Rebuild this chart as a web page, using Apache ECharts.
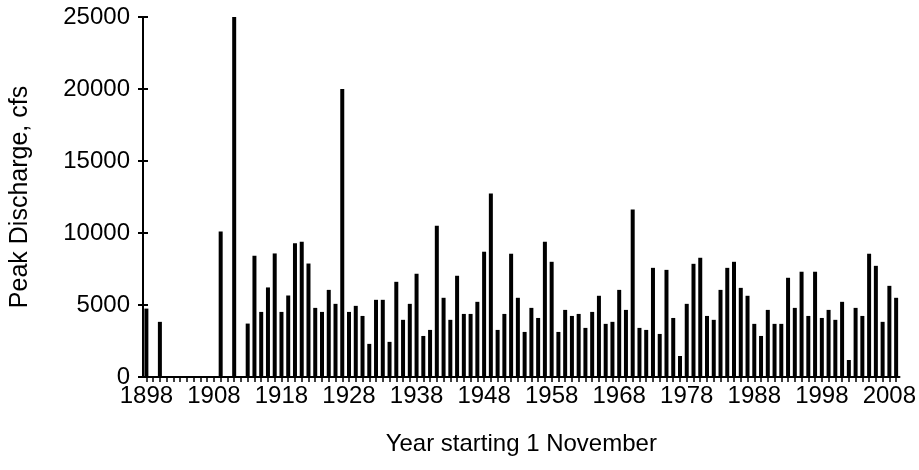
<!DOCTYPE html>
<html>
<head>
<meta charset="utf-8">
<script src="https://cdn.jsdelivr.net/npm/echarts@6/dist/echarts.min.js"></script>
<style>
html,body{margin:0;padding:0;background:#fff;}
#chart{width:919px;height:470px;}
</style>
</head>
<body>
<div id="chart"></div>
<script>
const years = [
'1898','1899','1900','1901','1902','1903','1904','1905','1906','1907',
'1908','1909','1910','1911','1912','1913','1914','1915','1916','1917',
'1918','1919','1920','1921','1922','1923','1924','1925','1926','1927',
'1928','1929','1930','1931','1932','1933','1934','1935','1936','1937',
'1938','1939','1940','1941','1942','1943','1944','1945','1946','1947',
'1948','1949','1950','1951','1952','1953','1954','1955','1956','1957',
'1958','1959','1960','1961','1962','1963','1964','1965','1966','1967',
'1968','1969','1970','1971','1972','1973','1974','1975','1976','1977',
'1978','1979','1980','1981','1982','1983','1984','1985','1986','1987',
'1988','1989','1990','1991','1992','1993','1994','1995','1996','1997',
'1998','1999','2000','2001','2002','2003','2004','2005','2006','2007',
'2008','2009'];

const peakDischarge = [
4750,0,3830,0,0,0,0,0,0,0,
0,10100,0,25000,0,3710,8420,4520,6220,8580,
4520,5660,9280,9390,7880,4800,4520,6050,5080,20000,
4520,4940,4240,2300,5360,5360,2440,6610,3970,5080,
7170,2850,3270,10510,5500,3970,7030,4380,4380,5220,
8700,12750,3270,4380,8560,5500,3130,4800,4100,9390,
8000,3130,4660,4240,4380,3410,4520,5640,3690,3830,
6050,4660,11640,3410,3270,7580,2990,7440,4100,1460,
5080,7860,8280,4240,3970,6050,7580,8000,6190,5640,
3690,2850,4660,3690,3690,6890,4800,7310,4240,7310,
4100,4660,3970,5220,1180,4800,4240,8560,7720,3830,
6330,5500];

const yMin = 0, yMax = 25000, yStep = 5000;
const xTitle = 'Year starting 1 November';
const yTitle = 'Peak Discharge, cfs';

const FONT = 'Liberation Sans, Arial, sans-serif';
const chart = echarts.init(document.getElementById('chart'), null, {renderer:'canvas'});
chart.setOption({
  animation: false,
  backgroundColor: '#fff',
  grid: {left: 139, right: 16, top: 17, bottom: 93, containLabel: false},
  xAxis: {
    type: 'category',
    data: years,
    boundaryGap: true,
    name: xTitle,
    nameLocation: 'middle',
    nameGap: 55,
    nameTextStyle: {color: '#000', fontSize: 24, fontFamily: FONT},
    axisLine: {show: true, lineStyle: {color: '#000', width: 2}},
    axisTick: {show: true, interval: 0, alignWithLabel: true, length: 5, lineStyle: {color: '#000', width: 1.5}},
    axisLabel: {interval: 9, color: '#000', fontSize: 24, fontFamily: FONT, margin: 7},
    splitLine: {show: false}
  },
  yAxis: [{
    type: 'value',
    min: yMin, max: yMax, interval: yStep,
    name: yTitle,
    nameLocation: 'middle',
    nameGap: 110,
    nameTextStyle: {color: '#000', fontSize: 25, fontFamily: FONT},
    axisLine: {show: true, lineStyle: {color: '#000', width: 2}},
    axisTick: {show: true, length: 5, lineStyle: {color: '#000', width: 2}},
    axisLabel: {color: '#000', fontSize: 24, fontFamily: FONT, margin: 13, formatter: function (v) { return String(v); }},
    splitLine: {show: false}
  }, {
    type: 'value',
    min: yMin, max: yMax, interval: yStep,
    position: 'left',
    axisLine: {show: false},
    axisTick: {show: true, inside: true, length: 5, lineStyle: {color: '#000', width: 2}},
    axisLabel: {show: false},
    splitLine: {show: false}
  }],
  series: [{
    type: 'bar',
    data: peakDischarge,
    yAxisIndex: 0,
    barWidth: 4,
    itemStyle: {color: '#000'},
    silent: true
  }]
});
</script>
</body>
</html>
